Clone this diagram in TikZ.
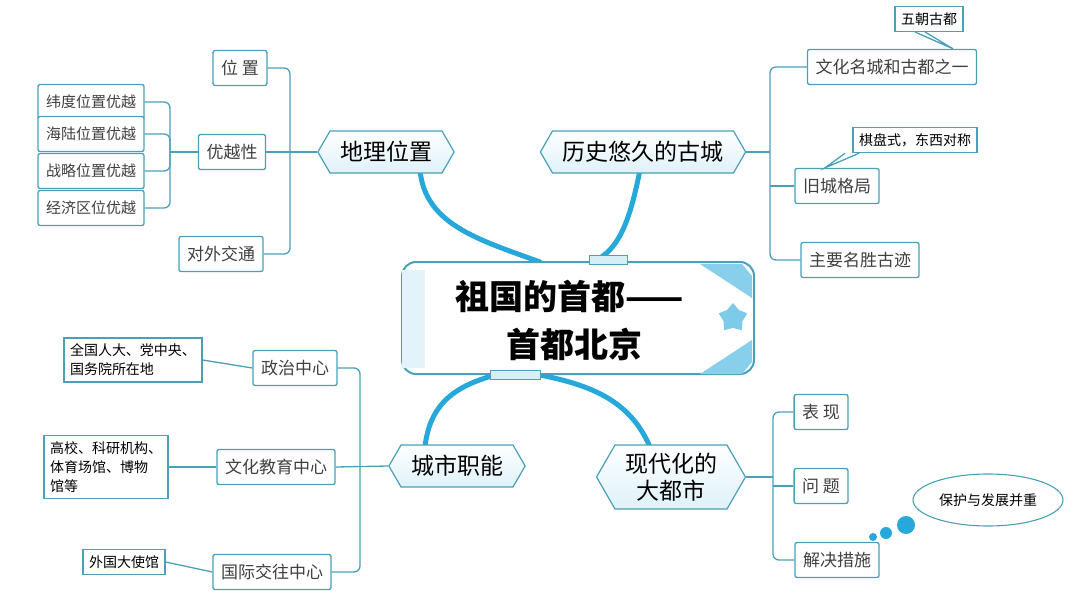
\documentclass[tikz,border=0pt]{standalone}
\usepackage{fontspec}
\setmainfont{Noto Sans CJK SC}
\usepackage{tikz}
\usetikzlibrary{arrows}
\usetikzlibrary{positioning}
\usetikzlibrary{shapes.symbols}
\usetikzlibrary{shapes.geometric}
\definecolor{edge}{RGB}{72,160,185}
\definecolor{trunk}{RGB}{38,168,218}
\definecolor{pale}{RGB}{214,238,248}
\tikzstyle{leaf} = [rectangle, draw=edge, line width=1.3pt, fill=white, rounded corners=2pt, font=\fontsize{17}{21}\selectfont, text=black!75, minimum height=35pt, inner xsep=8pt, align=left]
\tikzstyle{topic} = [signal, signal to=west and east, signal pointer angle=120, draw=edge, line width=1.2pt, top color=white, bottom color=pale!80, font=\fontsize{23}{27}\selectfont, minimum height=42pt, inner xsep=10pt, align=center]
\tikzstyle{link} = [draw=edge, line width=1.3pt, rounded corners=6pt]
\tikzstyle{trunkline} = [draw=trunk, line width=5pt, line cap=round]
\tikzstyle{note} = [rectangle, draw=edge, line width=1.1pt, fill=white, font=\fontsize{14}{17}\selectfont, inner sep=6pt]
\begin{document}
\begin{tikzpicture}[x=1pt, y=-1pt]
            \useasboundingbox (0,0) rectangle (1080,602);
            % Thick branches
            \coordinate (tl) at (420,170);
            \coordinate (tr) at (640,170);
            \coordinate (bl) at (425,447);
            \coordinate (br) at (650,447);
            \path [trunkline] (tl) .. controls (425,225) and (480,240) .. (540,262);
            \path [trunkline] (tr) .. controls (630,220) and (620,245) .. (600,258);
            \path [trunkline] (bl) .. controls (430,400) and (460,385) .. (495,375);
            \path [trunkline] (br) .. controls (630,400) and (590,385) .. (540,375);
            % Centre
            \node [rectangle, draw=edge, line width=2pt, fill=white, rounded corners=14pt, minimum width=352pt, minimum height=112pt] (centre) at (578,318) {};
            \fill [pale!70] (402,270) rectangle (425,368);
            \fill [trunk!55] (700,264) -- (742,264) -- (752,276) -- (752,298) -- cycle;
            \fill [trunk!55] (700,374) -- (742,374) -- (752,362) -- (752,340) -- cycle;
            \node [star, star points=5, fill=trunk!60, minimum size=30pt, inner sep=0pt] (deco) at (733,318) {};
            \node [rectangle, draw=edge, fill=pale, minimum width=38pt, minimum height=9pt, inner sep=0pt] (tabtop) at (608,260) {};
            \node [rectangle, draw=edge, fill=pale, minimum width=50pt, minimum height=9pt, inner sep=0pt] (tabbot) at (515,375) {};
            \node [font=\fontsize{34}{48}\selectfont\bfseries, align=center] (title) at (570,320) {祖国的首都——\\\hspace*{8pt}首都北京};
            % Place topics
            \node [topic] (dl) at (386,152) {地理位置};
            \node [topic] (ls) at (643,152) {历史悠久的古城};
            \node [topic] (cs) at (457,466) {城市职能};
            \node [topic, minimum height=64pt] (xd) at (671,477) {现代化的\\大都市};
            % Geography
            \node [leaf] (wz) at (240,68) {位\ 置};
            \node [leaf] (yyx) at (232,152) {优越性};
            \node [leaf] (dwjt) at (221,254) {对外交通};
            \node [leaf, font=\fontsize{15}{18}\selectfont] (wd) at (91,102) {纬度位置优越};
            \node [leaf, font=\fontsize{15}{18}\selectfont] (hl) at (91,134) {海陆位置优越};
            \node [leaf, font=\fontsize{15}{18}\selectfont] (zl) at (91,171) {战略位置优越};
            \node [leaf, font=\fontsize{15}{18}\selectfont] (jj) at (91,208) {经济区位优越};
            \path [link] (wz.east) -| (290,152) |- (dwjt.east);
            \path [link] (yyx.east) -- (dl.west);
            \path [link] (wd.east) -| (170,152) |- (jj.east);
            \path [link] (hl.east) -| (170,152);
            \path [link] (zl.east) -| (170,152);
            \path [link] (170,152) -- (yyx.west);
            % History
            \node [leaf] (mc) at (892,67) {文化名城和古都之一};
            \node [leaf] (jc) at (837,186) {旧城格局};
            \node [leaf] (mj) at (860,260) {主要名胜古迹};
            \node [note] (wc) at (929,19) {五朝古都};
            \node [note] (qp) at (915,140) {棋盘式，东西对称};
            \path [link] (mc.west) -| (770,152) |- (mj.west);
            \path [link] (jc.west) -- (770,186);
            \path [link] (ls.east) -- (770,152);
            \path [link, rounded corners=0pt] ([xshift=-14pt]wc.south) -- ([xshift=-24pt]mc.north east) -- ([xshift=-4pt]wc.south);
            \path [link, rounded corners=0pt] ([xshift=-70pt]qp.south) -- ([xshift=-12pt]jc.north) -- ([xshift=-56pt]qp.south);
            % City functions
            \node [leaf] (zz) at (295,368) {政治中心};
            \node [leaf] (wj) at (276,467) {文化教育中心};
            \node [leaf] (gj) at (272,572) {国际交往中心};
            \node [note, align=left, font=\fontsize{14}{19}\selectfont] (rd) at (133,360) {全国人大、党中央、\\国务院所在地};
            \node [note, align=left, font=\fontsize{14}{19}\selectfont] (gx) at (106,467) {高校、科研机构、\\体育场馆、博物\\馆等};
            \node [note] (sg) at (124,562) {外国大使馆};
            \path [link] (zz.east) -| (360,466) |- (gj.east);
            \path [link] (wj.east) -- (cs.west);
            \path [link, rounded corners=0pt] (rd.east) -- (zz.west);
            \path [link, rounded corners=0pt] (gx.east) -- (wj.west);
            \path [link, rounded corners=0pt] (sg.east) -- (gj.west);
            % Modern city
            \node [leaf] (bx) at (821,412) {表\ 现};
            \node [leaf] (wt) at (821,486) {问\ 题};
            \node [leaf] (js) at (837,560) {解决措施};
            \path [link] (bx.west) -| (773,477) |- (js.west);
            \path [link] (wt.west) -- (773,486);
            \path [link] (xd.east) -- (773,477);
            \node [ellipse, draw=edge, line width=1.1pt, fill=white, minimum width=150pt, minimum height=52pt, font=\fontsize{14}{17}\selectfont] (bh) at (988,500) {保护与发展并重};
            \fill [trunk] (906,525) circle (9pt);
            \fill [trunk] (886,533) circle (6pt);
            \fill [trunk] (873,537) circle (4pt);
          \end{tikzpicture}
\end{document}
